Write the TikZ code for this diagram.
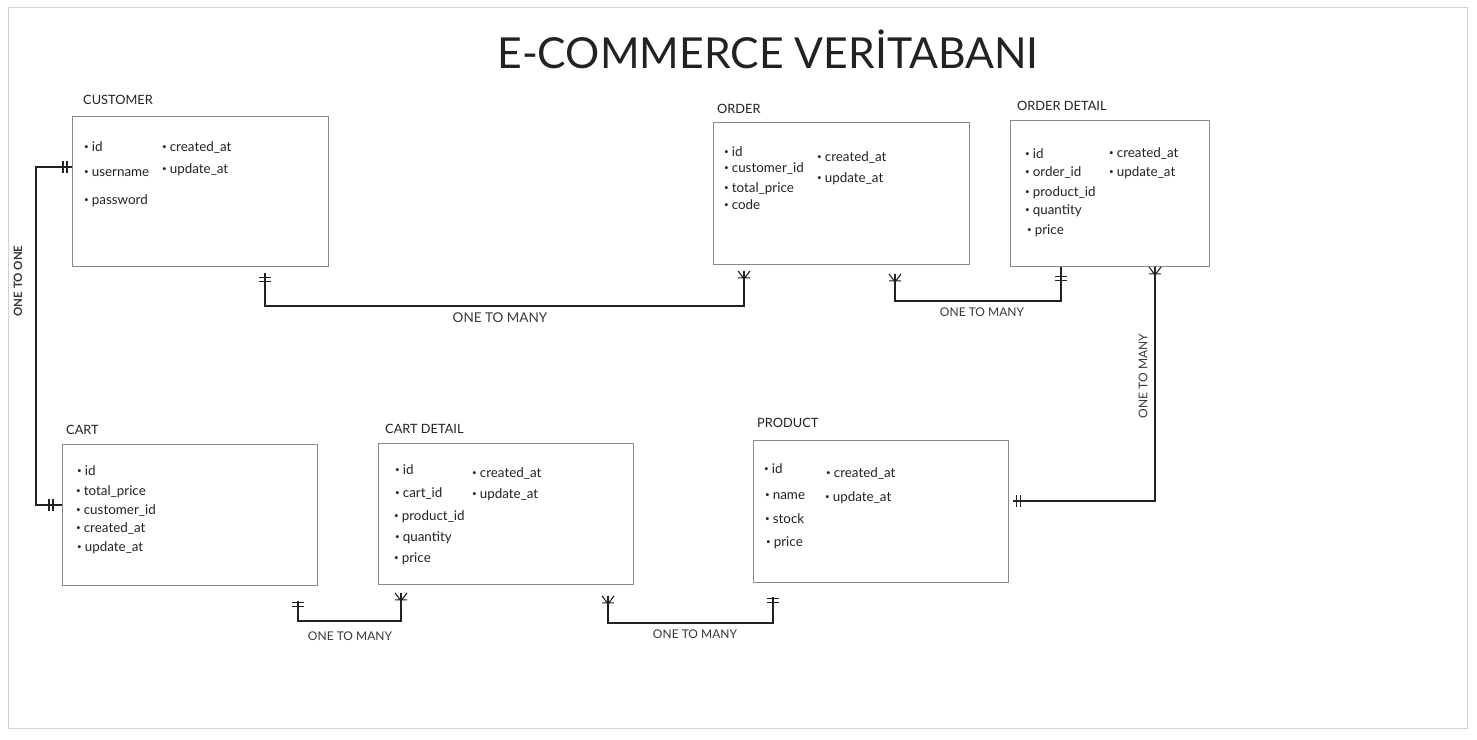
\documentclass[tikz,border=0pt]{standalone}
\usepackage{fontspec}
\setmainfont{Lato}
\usetikzlibrary{calc}
\definecolor{ink}{HTML}{222222}
\definecolor{boxgray}{HTML}{8A8A8A}
\definecolor{framegray}{HTML}{D2D2D2}
\newcommand\bul{\raisebox{1.8pt}{\fontsize{8}{8}\selectfont •}\hspace{3pt}}
\tikzset{
  tbl/.style={draw=boxgray, line width=0.9pt, anchor=north west, inner sep=0pt},
  ttl/.style={anchor=base west, inner sep=0pt, text=ink, font=\fontsize{12.8}{14}\selectfont},
  fld/.style={anchor=base west, inner sep=0pt, text=ink, font=\fontsize{13.4}{15}\selectfont},
  lbl/.style={inner sep=0pt, text=ink!90, font=\fontsize{12}{14}\selectfont},
  conn/.style={draw=ink, line width=1.2pt},
  pics/one/.style={code={\draw[ink, line width=1.1pt] (-6,#1)--(6,#1) (-6,#1+4)--(6,#1+4);}},
  pics/many/.style={code={\draw[ink, line width=1.1pt] (-6,0)--(0,8)--(6,0) (0,0)--(0,8) (-6,7)--(6,7);}},
}
\begin{document}
\begin{tikzpicture}[x=1pt, y=-1pt]
\useasboundingbox (0,0) rectangle (1477,739);
\draw[framegray, line width=1pt] (8,7) rectangle (1467,728);

\node[anchor=base, inner sep=0pt, text=ink, font=\fontsize{42.7}{46}\selectfont] (title) at (768,68) {E-COMMERCE VERİTABANI};

% tables
\node[tbl, minimum width=256pt, minimum height=150pt] (customer) at (72,116) {};
\node[ttl] (customerT) at (83,104) {CUSTOMER};
\node[fld] (cu1) at (84,151) {\bul id};
\node[fld] (cu2) at (84,176) {\bul username};
\node[fld] (cu3) at (84,204) {\bul password};
\node[fld] (cu4) at (162,151) {\bul created\_at};
\node[fld] (cu5) at (162,173) {\bul update\_at};

\node[tbl, minimum width=256pt, minimum height=142pt] (order) at (713,122) {};
\node[ttl] (orderT) at (717,113) {ORDER};
\node[fld] (or1) at (724,156) {\bul id};
\node[fld] (or2) at (724,172) {\bul customer\_id};
\node[fld] (or3) at (724,192) {\bul total\_price};
\node[fld] (or4) at (724,209) {\bul code};
\node[fld] (or5) at (817,161) {\bul created\_at};
\node[fld] (or6) at (817,182) {\bul update\_at};

\node[tbl, minimum width=199pt, minimum height=146pt] (odetail) at (1010,120) {};
\node[ttl] (odetailT) at (1017,110) {ORDER DETAIL};
\node[fld] (od1) at (1025,158) {\bul id};
\node[fld] (od2) at (1025,176) {\bul order\_id};
\node[fld] (od3) at (1025,196) {\bul product\_id};
\node[fld] (od4) at (1025,214) {\bul quantity};
\node[fld] (od5) at (1027,234) {\bul price};
\node[fld] (od6) at (1109,157) {\bul created\_at};
\node[fld] (od7) at (1109,176) {\bul update\_at};

\node[tbl, minimum width=255pt, minimum height=141pt] (cart) at (62,444) {};
\node[ttl] (cartT) at (66,434) {CART};
\node[fld] (ca1) at (77,475) {\bul id};
\node[fld] (ca2) at (76,495) {\bul total\_price};
\node[fld] (ca3) at (76,514) {\bul customer\_id};
\node[fld] (ca4) at (76,532) {\bul created\_at};
\node[fld] (ca5) at (77,551) {\bul update\_at};

\node[tbl, minimum width=255pt, minimum height=141pt] (cdetail) at (378,443) {};
\node[ttl] (cdetailT) at (385,433) {CART DETAIL};
\node[fld] (cd1) at (395,474) {\bul id};
\node[fld] (cd2) at (395,497) {\bul cart\_id};
\node[fld] (cd3) at (394,520) {\bul product\_id};
\node[fld] (cd4) at (395,541) {\bul quantity};
\node[fld] (cd5) at (394,562) {\bul price};
\node[fld] (cd6) at (472,477) {\bul created\_at};
\node[fld] (cd7) at (472,498) {\bul update\_at};

\node[tbl, minimum width=255pt, minimum height=142pt] (product) at (753,440) {};
\node[ttl] (productT) at (757,427) {PRODUCT};
\node[fld] (pr1) at (764,473) {\bul id};
\node[fld] (pr2) at (765,499) {\bul name};
\node[fld] (pr3) at (765,523) {\bul stock};
\node[fld] (pr4) at (766,546) {\bul price};
\node[fld] (pr5) at (826,477) {\bul created\_at};
\node[fld] (pr6) at (825,501) {\bul update\_at};

% connector end points
\coordinate (c1a) at ($(customer.north west)+(0,51)$);
\coordinate (c1b) at ($(cart.north west)+(0,61)$);
\coordinate (c2a) at ($(customer.south west)+(193,6)$);
\coordinate (c2b) at ($(order.south west)+(31,6)$);
\coordinate (c3a) at ($(order.south west)+(182,9)$);
\coordinate (c3b) at ($(odetail.south west)+(51,0)$);
\coordinate (c4a) at ($(odetail.south west)+(145,0)$);
\coordinate (c4b) at ($(product.north east)+(4,61)$);
\coordinate (c5a) at ($(cart.south west)+(236,15)$);
\coordinate (c5b) at ($(cdetail.south west)+(23,8)$);
\coordinate (c6a) at ($(cdetail.south west)+(230,11)$);
\coordinate (c6b) at ($(product.south west)+(20,14)$);

% CUSTOMER - CART : one to one
\draw[conn] (c1a) -- ++(-36,0) |- (c1b);
\pic[rotate=-90] at (c1a) {one=5};
\pic[rotate=-90] at (c1b) {one=9};
\node[lbl, rotate=90, font=\fontsize{11.5}{13}\selectfont\bfseries] (l1) at (18,281) {ONE TO ONE};

% CUSTOMER - ORDER
\draw[conn] (c2a) -- ++(0,33) -| (c2b);
\pic at (c2a) {one=5};
\pic at (c2b) {many};
\node[lbl, font=\fontsize{13.5}{15}\selectfont] (l2) at (500,318) {ONE TO MANY};

% ORDER - ORDER DETAIL
\draw[conn] (c3a) -- ++(0,27) -| (c3b);
\pic at (c3a) {many};
\pic at (c3b) {one=10};
\node[lbl] (l3) at (982,312) {ONE TO MANY};

% ORDER DETAIL - PRODUCT
\draw[conn] (c4a) |- (c4b);
\pic at (c4a) {many};
\pic[rotate=90] at (c4b) {one=4};
\node[lbl, rotate=90] (l4) at (1143,376) {ONE TO MANY};

% CART - CART DETAIL
\draw[conn] (c5a) -- ++(0,20) -| (c5b);
\pic at (c5a) {one=1.5};
\pic at (c5b) {many};
\node[lbl] (l5) at (350,636) {ONE TO MANY};

% CART DETAIL - PRODUCT
\draw[conn] (c6a) -- ++(0,27) -| (c6b);
\pic at (c6a) {many};
\pic at (c6b) {one=2};
\node[lbl] (l6) at (695,634) {ONE TO MANY};
\end{tikzpicture}
\end{document}
